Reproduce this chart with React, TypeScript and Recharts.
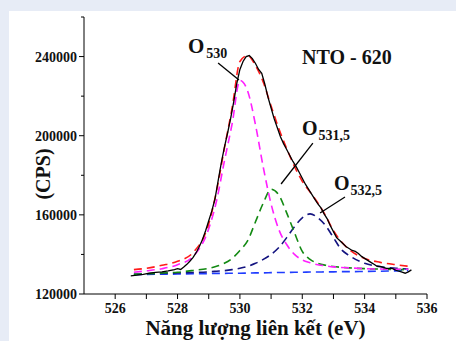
import { LineChart, Line, XAxis, YAxis, ReferenceLine } from 'recharts';

// binding energy grid of the fitted curves (eV)
const FIT_ENERGY = [
  526.6, 527, 527.5, 528, 528.5, 529, 529.25, 529.5, 529.75, 530, 530.25, 530.5, 530.75, 531,
  531.25, 531.5, 531.75, 532, 532.25, 532.5, 532.75, 533, 533.25, 533.5, 534, 534.5, 535, 535.4,
];
const BACKGROUND = [
  129800, 129900, 130000, 130100, 130200, 130300, 130400, 130400, 130500, 130500, 130600, 130700, 130700, 130800,
  130900, 130900, 131000, 131000, 131100, 131100, 131200, 131200, 131300, 131300, 131400, 131500, 131700, 131800,
];
const PEAK_530 = [
  131000, 131700, 132800, 134800, 139000, 153000, 167000, 187000, 206000, 228000, 222500, 205500, 184000, 165500,
  152500, 145000, 140000, 137200, 135800, 134800, 134200, 133700, 133400, 133200, 132800, 132600, 132500, 132500,
];
const PEAK_531_5 = [
  130000, 130200, 130600, 131000, 131900, 133000, 134000, 135500, 138000, 142000, 147000, 156500, 166000, 173000,
  170000, 161000, 151000, 141500, 137500, 135500, 134500, 133900, 133500, 133200, 132800, 132600, 132400, 132300,
];
const PEAK_532_5 = [
  130000, 130200, 130400, 130600, 130900, 131200, 131500, 131800, 132300, 133000, 134000, 135500, 137500, 140000,
  143500, 148500, 154000, 158500, 160500, 158500, 154500, 148500, 142500, 139500, 135500, 133800, 133000, 132600,
];
const ENVELOPE = [
  132300, 133000, 134500, 136500, 141000, 155500, 172000, 193500, 214000, 237500, 240500, 235500, 227000, 215000,
  203500, 193500, 184500, 177000, 171500, 166000, 159500, 152000, 146500, 142500, 138000, 136000, 134800, 134000,
];

// measured spectrum
const RAW_ENERGY = [
  526.5, 526.7, 526.9, 527.1, 527.3, 527.5, 527.7, 527.9, 528.0, 528.1, 528.2, 528.3, 528.4, 528.5, 528.6, 528.7,
  528.8, 528.9, 529.0, 529.1, 529.2, 529.3, 529.4, 529.5, 529.6, 529.7, 529.8, 529.9, 530.0, 530.1, 530.2, 530.3,
  530.4, 530.5, 530.6, 530.7, 530.8, 530.9, 531.0, 531.1, 531.2, 531.3, 531.4, 531.5, 531.6, 531.7, 531.8, 531.9,
  532.0, 532.1, 532.2, 532.3, 532.4, 532.5, 532.6, 532.7, 532.8, 532.9, 533.0, 533.1, 533.2, 533.3, 533.4, 533.5,
  533.6, 533.7, 533.8, 533.9, 534.0, 534.1, 534.2, 534.3, 534.4, 534.5, 534.6, 534.7, 534.8, 534.9, 535.0, 535.1,
  535.2, 535.3, 535.4, 535.5,
];
const RAW_CPS = [
  129200, 129500, 129900, 130500, 130900, 131200, 131700, 132300, 132800, 132400, 133600, 135000, 136700, 138500, 141000, 144000,
  147500, 152000, 157000, 162000, 168000, 177000, 186000, 194000, 201000, 208500, 217000, 226500, 233500, 237500, 240000, 240500,
  239000, 236500, 233500, 231500, 226000, 219500, 214000, 208500, 204000, 199500, 196000, 193000, 190000, 187000, 184500, 181500,
  178500, 175500, 173000, 170500, 168000, 165500, 163500, 160500, 158000, 154500, 151500, 148500, 147000, 145500, 144000, 143000,
  142000, 141500, 140500, 139000, 138000, 137000, 136000, 135000, 134000, 134000, 133500, 133000, 133000, 132800, 132000, 131500,
  131000, 130500, 131200, 132200,
];

const X_TICKS = [526, 527, 528, 529, 530, 531, 532, 533, 534, 535, 536];
const Y_TICKS = [120000, 140000, 160000, 180000, 200000, 220000, 240000, 260000];

// leader lines from the peak labels, in data units
const LEADERS = [
  [{ x: 529.3, y: 236700 }, { x: 529.97, y: 228100 }],
  [{ x: 532.34, y: 196300 }, { x: 531.32, y: 175600 }],
  [{ x: 533.37, y: 169000 }, { x: 532.57, y: 160900 }],
];

const SERIF = '"Liberation Serif", "Times New Roman", serif';

const fitData = FIT_ENERGY.map((x, i) => ({
  x,
  bg: BACKGROUND[i],
  p530: PEAK_530[i],
  p531: PEAK_531_5[i],
  p532: PEAK_532_5[i],
  env: ENVELOPE[i],
}));
const rawData = RAW_ENERGY.map((x, i) => ({ x, cps: RAW_CPS[i] }));

function XTick({ x, y, payload }: any) {
  const v = payload.value;
  return (
    <g>
      <line x1={x} y1={y} x2={x} y2={y + 5} stroke="#000" strokeWidth={1} />
      {v % 2 === 0 && (
        <text x={x} y={y + 18.5} textAnchor="middle" fontFamily={SERIF} fontWeight="bold" fontSize={14} fill="#111">
          {v}
        </text>
      )}
    </g>
  );
}

function YTick({ x, y, payload }: any) {
  const v = payload.value;
  const major = v % 40000 === 0;
  return (
    <g>
      <line x1={x - (major ? 5 : 3)} y1={y} x2={x} y2={y} stroke="#000" strokeWidth={1} />
      {major && (
        <text x={x - 7} y={y + 5} textAnchor="end" fontFamily={SERIF} fontWeight="bold" fontSize={14} fill="#111">
          {v}
        </text>
      )}
    </g>
  );
}

const dashed = { strokeDasharray: '8 5', strokeWidth: 1.6, dot: false, isAnimationActive: false, type: 'monotone' as const };

export default function App() {
  return (
    <div style={{ position: 'absolute', left: 0, top: 0, width: 456, height: 341, background: '#e7ecf6', overflow: 'hidden' }}>
      <div style={{ position: 'absolute', left: 9, top: 11, width: 447, height: 330, background: '#fff' }} />
      <div style={{ position: 'absolute', left: 0, top: 0 }}>
        <LineChart width={456} height={341} margin={{ top: 17, right: 29, bottom: 17, left: 0 }}>
          <XAxis
            dataKey="x"
            type="number"
            domain={[525, 536]}
            ticks={X_TICKS}
            interval={0}
            tickLine={false}
            tickSize={0}
            tickMargin={0}
            tick={<XTick />}
            axisLine={{ stroke: '#000', strokeWidth: 1 }}
            height={30}
            allowDuplicatedCategory={false}
          />
          <YAxis
            type="number"
            domain={[120000, 260000]}
            ticks={Y_TICKS}
            interval={0}
            tickLine={false}
            tickSize={0}
            tickMargin={0}
            tick={<YTick />}
            axisLine={{ stroke: '#000', strokeWidth: 1 }}
            width={84}
          />
          <Line data={fitData} dataKey="bg" stroke="#1f3cff" {...dashed} />
          <Line data={fitData} dataKey="p532" stroke="#141480" {...dashed} />
          <Line data={fitData} dataKey="p531" stroke="#138a13" {...dashed} />
          <Line data={fitData} dataKey="p530" stroke="#ff1fff" {...dashed} />
          <Line data={fitData} dataKey="env" stroke="#ff1a1a" {...dashed} />
          <Line data={rawData} dataKey="cps" stroke="#000" strokeWidth={1.3} dot={false} type="linear" isAnimationActive={false} />
          {LEADERS.map((seg, i) => (
            <ReferenceLine key={i} segment={seg} stroke="#000" strokeWidth={1.3} ifOverflow="visible" />
          ))}
        </LineChart>
      </div>
      <svg width={456} height={341} style={{ position: 'absolute', left: 0, top: 0, pointerEvents: 'none' }}>
        <g fontFamily={SERIF} fontWeight="bold" fill="#111">
          <text transform="translate(50,174) rotate(-90)" textAnchor="middle" fontSize={20}>(CPS)</text>
          <text x={255.5} y={334.5} textAnchor="middle" fontSize={21}>Năng lượng liên kết (eV)</text>
          <text x={302} y={64} fontSize={20}>NTO - 620</text>
          <text x={188} y={53} fontSize={21}>
            O<tspan fontSize={14} dx={2} dy={4.5}>530</tspan>
          </text>
          <text x={302} y={135} fontSize={20}>
            O<tspan fontSize={14} dx={1} dy={5}>531,5</tspan>
          </text>
          <text x={334} y={190} fontSize={20}>
            O<tspan fontSize={14} dx={1} dy={5}>532,5</tspan>
          </text>
        </g>
      </svg>
    </div>
  );
}
